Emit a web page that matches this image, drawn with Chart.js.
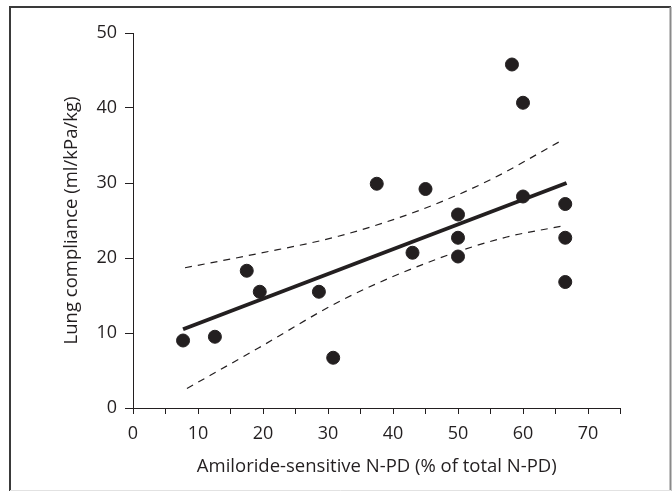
<!DOCTYPE html>
<html>
<head>
<meta charset="utf-8">
<script src="https://cdn.jsdelivr.net/npm/chart.js@4.4.1/dist/chart.umd.min.js"></script>
<style>
  html, body { margin: 0; padding: 0; background: #fff; }
  #wrap { width: 672px; height: 492px; position: relative; }
</style>
</head>
<body>
<div id="wrap"><canvas id="chart" width="672" height="492"></canvas></div>
<script>
// measured points
const xVals = [7.7, 12.6, 17.5, 19.5, 28.6, 30.8, 37.5, 45.0, 43.0, 50.0, 50.0, 50.0, 58.3, 60.0, 60.0, 66.5, 66.5, 66.5];
const yVals = [9.0, 9.5, 18.3, 15.5, 15.5, 6.7, 29.9, 29.2, 20.7, 25.8, 22.7, 20.2, 45.8, 40.7, 28.2, 27.2, 22.7, 16.8];

// regression line
const fitX = [7.7, 66.7];
const fitY = [10.5, 30.0];

// 95% confidence band
const upperX = [8.0, 19.3, 31.6, 44.2, 54.9, 65.8];
const upperY = [18.7, 20.6, 22.9, 26.4, 30.4, 35.6];
const lowerX = [8.3, 19.3, 32.4, 47.2, 57.5, 66.3];
const lowerY = [2.6, 8.0, 14.5, 20.0, 22.8, 24.3];

const xTickLabels = ['0', '10', '20', '30', '40', '50', '60', '70'];
const yTickLabels = ['0', '10', '20', '30', '40', '50'];

const ink = '#231f20';
const FONT = 'Open Sans';

function pts(xs, ys) {
    return xs.map((x, i) => ({ x: x, y: ys[i] }));
}

const frame = {
    id: 'frame',
    afterDraw(chart) {
        const c = chart.ctx;
        c.save();
        c.lineWidth = 2;
        c.strokeStyle = '#3a3a3a';
        c.beginPath();
        c.moveTo(10, 491); c.lineTo(10, 7); c.lineTo(671, 7);
        c.stroke();
        c.strokeStyle = '#8a8a8a';
        c.beginPath();
        c.moveTo(670.5, 7); c.lineTo(670.5, 491);
        c.stroke();
        c.strokeStyle = '#e2e2e2';
        c.lineWidth = 1;
        c.beginPath();
        c.moveTo(10, 490.5); c.lineTo(671, 490.5);
        c.stroke();
        c.restore();
    }
};

const dashed = {
    type: 'line',
    borderColor: ink,
    borderWidth: 1.2,
    borderDash: [7, 6],
    pointRadius: 0,
    fill: false,
    tension: 0.4,
    cubicInterpolationMode: 'monotone'
};

new Chart(document.getElementById('chart'), {
    type: 'scatter',
    data: {
        datasets: [
            {
                data: pts(xVals, yVals),
                backgroundColor: ink,
                borderColor: ink,
                pointRadius: 6.5,
                pointHoverRadius: 6.5
            },
            {
                type: 'line',
                data: pts(fitX, fitY),
                borderColor: ink,
                borderWidth: 4,
                pointRadius: 0,
                fill: false
            },
            Object.assign({ data: pts(upperX, upperY) }, dashed),
            Object.assign({ data: pts(lowerX, lowerY) }, dashed)
        ]
    },
    options: {
        responsive: false,
        animation: false,
        events: [],
        layout: { padding: { left: 0, top: 33, right: 51.5, bottom: 0 } },
        plugins: {
            legend: { display: false },
            tooltip: { enabled: false }
        },
        scales: {
            x: {
                type: 'linear',
                min: 0,
                max: 75,
                afterFit(scale) { scale.height = 84; },
                afterBuildTicks(scale) {
                    const t = [];
                    for (let v = 0; v <= 75; v += 5) t.push({ value: v });
                    scale.ticks = t;
                },
                ticks: {
                    color: ink,
                    font: { family: FONT, size: 18 },
                    padding: 9,
                    maxRotation: 0,
                    autoSkip: false,
                    callback: (v) => xTickLabels.includes(String(v)) ? String(v) : ''
                },
                grid: { drawOnChartArea: false, color: ink, tickLength: 6, lineWidth: 1 },
                border: { display: true, color: ink, width: 1 },
                title: {
                    display: true,
                    text: 'Amiloride-sensitive N-PD (% of total N-PD)',
                    color: ink,
                    font: { family: FONT, size: 18.5 },
                    padding: { top: 0, bottom: 14 }
                }
            },
            y: {
                type: 'linear',
                min: 0,
                max: 50,
                afterFit(scale) { scale.width = 133; },
                afterBuildTicks(scale) {
                    scale.ticks = yTickLabels.map(s => ({ value: Number(s) }));
                },
                ticks: {
                    color: ink,
                    font: { family: FONT, size: 18 },
                    padding: 8,
                    callback: (v) => String(v)
                },
                grid: { drawOnChartArea: false, color: ink, tickLength: 8, lineWidth: 1 },
                border: { display: true, color: ink, width: 1 },
                title: {
                    display: true,
                    text: 'Lung compliance (ml/kPa/kg)',
                    color: ink,
                    font: { family: FONT, size: 18.5 },
                    padding: { top: 61, bottom: 0 }
                }
            }
        }
    },
    plugins: [frame]
});
</script>
</body>
</html>
